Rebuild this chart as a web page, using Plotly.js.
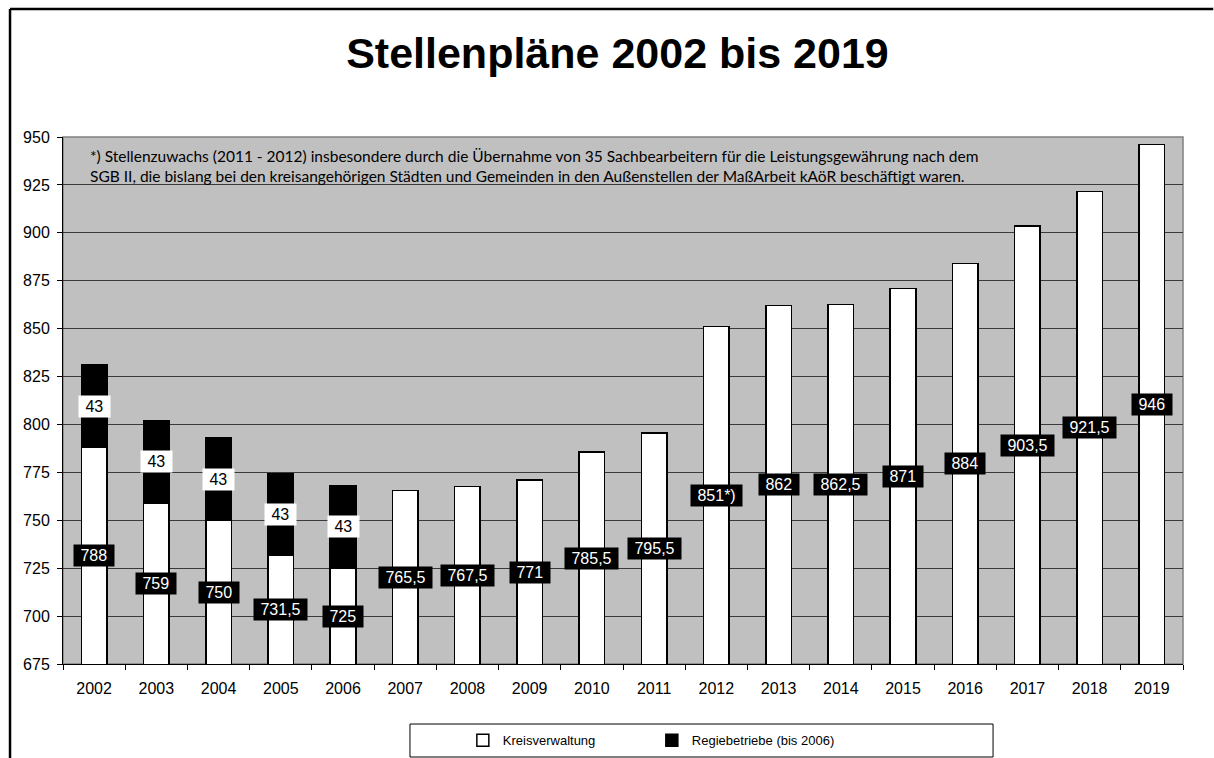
<!DOCTYPE html>
<html>
<head>
<meta charset="utf-8">
<script src="https://cdn.plot.ly/plotly-3.0.1.min.js"></script>
<style>
html,body{margin:0;padding:0;background:#fff;overflow:hidden;}
#chart{width:1214px;height:758px;}
</style>
</head>
<body>
<div id="chart"></div>
<script>
// ---- data ----
const years = ['2002','2003','2004','2005','2006','2007','2008','2009','2010','2011','2012','2013','2014','2015','2016','2017','2018','2019'];
const kreisverwaltung = [788,759,750,731.5,725,765.5,767.5,771,785.5,795.5,851,862,862.5,871,884,903.5,921.5,946];
const regiebetriebe = [43,43,43,43,43,null,null,null,null,null,null,null,null,null,null,null,null,null];
const labelMarks = ['','','','','','','','','','','*)','','','','','','',''];
const axisRange = [675,950];
const titleText = 'Stellenpläne 2002 bis 2019';
const footnote = '*) Stellenzuwachs (2011 - 2012) insbesondere durch die Übernahme von 35 Sachbearbeitern für die Leistungsgewährung nach dem<br>SGB II, die bislang bei den kreisangehörigen Städten und Gemeinden in den Außenstellen der MaßArbeit kAöR beschäftigt waren.';

const ARIAL = 'Liberation Sans, Arial, sans-serif';
const NB = '\u00a0';
const fmt = v => String(v).replace('.', ',');

const traces = [
  {
    type:'bar', name:'Kreisverwaltung', x:years, y:kreisverwaltung,
    marker:{color:'#ffffff', line:{color:'#000000', width:1.5}},
    hoverinfo:'x+y'
  },
  {
    type:'bar', name:'Regiebetriebe (bis 2006)', x:years, y:regiebetriebe,
    marker:{color:'#000000', line:{color:'#000000', width:1.5}},
    hoverinfo:'x+y'
  }
];

const annotations = [];
years.forEach((yr,i)=>{
  const v = kreisverwaltung[i];
  annotations.push({
    x:i, y:(axisRange[0]+v)/2, xref:'x', yref:'y', showarrow:false,
    text: NB + fmt(v) + labelMarks[i] + NB,
    bgcolor:'#000000', borderpad:2,
    font:{family:ARIAL, size:16, color:'#ffffff'}
  });
  const r = regiebetriebe[i];
  if (r !== null) {
    annotations.push({
      x:i, y:v + r/2, xref:'x', yref:'y', showarrow:false,
      text: NB + fmt(r) + NB,
      bgcolor:'#ffffff', borderpad:2,
      font:{family:ARIAL, size:16, color:'#000000'}
    });
  }
});
annotations.push({
  xref:'paper', yref:'paper', x:0.0223, y:0.945, xanchor:'left', yanchor:'middle',
  align:'left', showarrow:false, text:footnote,
  font:{family:'Lato, Open Sans, sans-serif', size:15.5, color:'#000000'}
});

const shapes = [
  // plot area border
  {type:'rect', xref:'paper', yref:'paper', x0:0, x1:1, y0:0, y1:1, line:{color:'#808080', width:1.5}, layer:'below'},
  // outer chart frame (left and top)
  {type:'line', xref:'paper', yref:'paper', x0:-0.0473, x1:-0.0473, y0:1.243, y1:-0.2, line:{color:'#000000', width:2.5}},
  {type:'line', xref:'paper', yref:'paper', x0:-0.0473, x1:1.027, y0:1.243, y1:1.243, line:{color:'#000000', width:2.5}},
  // legend box
  {type:'rect', xref:'paper', yref:'paper', x0:0.3098, x1:0.8304, y0:-0.1139, y1:-0.1765, line:{color:'#000000', width:1}}
];

const layout = {
  width:1214, height:758,
  margin:{l:63, r:31, t:137, b:94, autoexpand:false},
  paper_bgcolor:'#ffffff', plot_bgcolor:'#c0c0c0',
  title:{text:titleText, x:0.5086, xref:'container', xanchor:'center', y:0.930, yref:'container', yanchor:'middle',
    font:{family:ARIAL, size:43, weight:'bold', color:'#000000'}},
  barmode:'stack', bargap:0.59,
  showlegend:true,
  legend:{orientation:'h', x:0.357, xanchor:'left', y:-0.145, yanchor:'middle',
    font:{family:ARIAL, size:13, color:'#000000'}, bgcolor:'rgba(0,0,0,0)', borderwidth:0,
    entrywidth:144, traceorder:'normal'},
  xaxis:{type:'category', range:[-0.5, years.length-0.5], autorange:false, tickson:'boundaries', ticks:'outside', ticklen:5, tickcolor:'#000000', tickwidth:1,
    showline:true, linecolor:'#000000', linewidth:1, showgrid:false, tickangle:0, ticklabelstandoff:10,
    tickfont:{family:ARIAL, size:16, color:'#000000'}, fixedrange:true},
  yaxis:{range:axisRange, autorange:false, dtick:25, tick0:675, ticks:'outside', ticklen:5, tickcolor:'#000000', tickwidth:1,
    showline:true, linecolor:'#000000', linewidth:1, showgrid:true, gridcolor:'#3a3a3a', gridwidth:1, ticklabelstandoff:4,
    zeroline:false, tickfont:{family:ARIAL, size:16, color:'#000000'}, fixedrange:true},
  annotations:annotations,
  shapes:shapes
};

Plotly.newPlot('chart', traces, layout, {displayModeBar:false, staticPlot:true});
</script>
</body>
</html>
